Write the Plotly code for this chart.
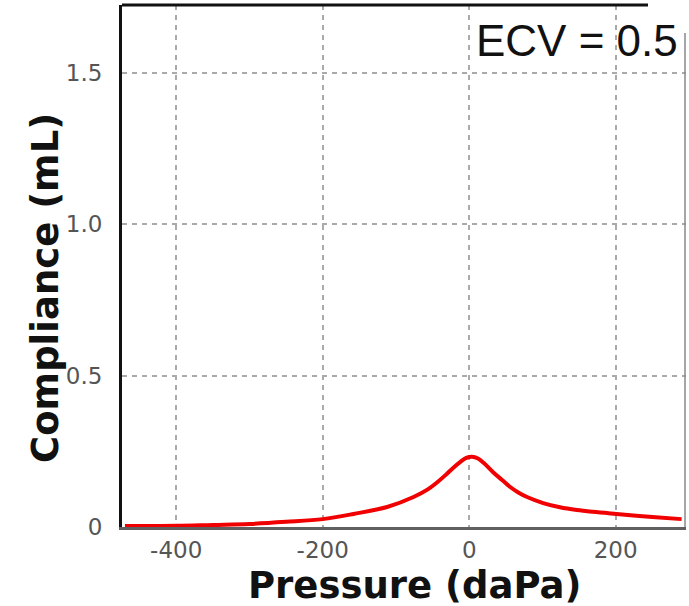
import plotly.graph_objects as go

pressure = [-470, -400, -350, -300, -250, -200, -158, -112, -76, -56, -44, -32, -22, -12, -4, 4, 12, 20, 33, 45, 56, 67, 79, 101, 124, 147, 169, 201, 250, 290]
compliance = [0.003, 0.004, 0.007, 0.010, 0.017, 0.026, 0.043, 0.066, 0.099, 0.125, 0.147, 0.172, 0.195, 0.215, 0.228, 0.232, 0.226, 0.211, 0.180, 0.155, 0.132, 0.114, 0.099, 0.079, 0.065, 0.056, 0.050, 0.043, 0.033, 0.026]

x_ticks = [-400, -200, 0, 200]
x_labels = ["-400", "-200", "0", "200"]
y_ticks = [0, 0.5, 1.0, 1.5]
y_labels = ["0", "0.5", "1.0", "1.5"]

fig = go.Figure()
fig.add_trace(go.Scatter(
    x=pressure, y=compliance, mode="lines",
    line=dict(color="#f00000", width=4, shape="spline", smoothing=1.0),
    hoverinfo="skip", showlegend=False,
))

tickfont = dict(family="DejaVu Sans", size=23, color="#555555")
fig.update_layout(
    width=689, height=606,
    margin=dict(l=122, r=3, t=5, b=79),
    paper_bgcolor="white", plot_bgcolor="white",
    xaxis=dict(
        range=[-474, 296], tickvals=x_ticks, ticktext=x_labels, automargin=False,
        showgrid=True, gridcolor="#aaaaaa", gridwidth=2, griddash="5px,5px",
        zeroline=False, showline=True, linecolor="#606060", linewidth=3,
        ticks="", tickfont=tickfont,
    ),
    yaxis=dict(
        range=[0, 1.723], tickvals=y_ticks, ticktext=y_labels, automargin=False,
        showgrid=True, gridcolor="#aaaaaa", gridwidth=2, griddash="5px,5px",
        zeroline=False, showline=True, linecolor="#111111", linewidth=3,
        ticks="outside", ticklen=12, tickcolor="rgba(0,0,0,0)",
        tickfont=tickfont,
    ),
    shapes=[
        dict(type="line", xref="paper", yref="paper", x0=0, x1=(648 - 122) / 564, y0=1, y1=1,
             line=dict(color="#111111", width=3)),
        dict(type="line", xref="paper", yref="paper", x0=(685 - 122) / 564, x1=(685 - 122) / 564,
             y0=0, y1=(527 - 33) / 522, line=dict(color="#888888", width=1.5)),
    ],
    annotations=[
        dict(text="<b>Compliance (mL)</b>", xref="paper", yref="paper",
             x=(45 - 122) / 564, y=(527 - 288) / 522, xanchor="center", yanchor="middle",
             textangle=-90, showarrow=False,
             font=dict(family="DejaVu Sans", size=37, color="#111111")),
        dict(text="<b>Pressure (daPa)</b>", xref="paper", yref="paper",
             x=(415 - 122) / 564, y=(527 - 585) / 522, xanchor="center", yanchor="middle",
             showarrow=False,
             font=dict(family="DejaVu Sans", size=37, color="#111111")),
        dict(text="ECV = 0.5", xref="paper", yref="paper",
             x=(474 - 122) / 564, y=(527 - 40) / 522, xanchor="left", yanchor="middle",
             showarrow=False,
             font=dict(family="Liberation Sans", size=44, color="#111111")),
    ],
)

fig.write_html("out.html", config={"displayModeBar": False, "staticPlot": True},
               post_script="document.body.style.margin='0';document.body.style.overflow='hidden';")
